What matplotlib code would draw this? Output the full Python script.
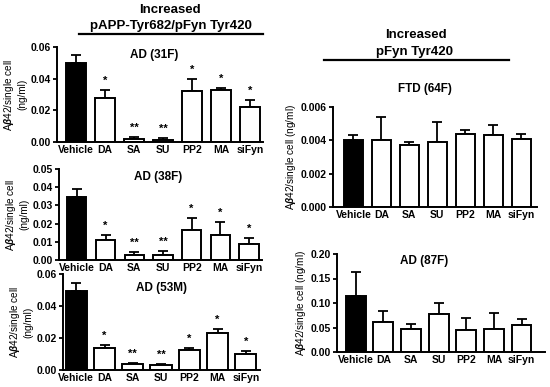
# Abeta42 per single cell, five patient lines, Fyn/APP inhibitor treatments
import numpy as np
import matplotlib.pyplot as plt
from matplotlib.lines import Line2D

plt.rcParams['font.family'] = ['Liberation Sans', 'DejaVu Sans']
plt.rcParams['font.weight'] = 'bold'
plt.rcParams['mathtext.fontset'] = 'custom'
plt.rcParams['mathtext.it'] = 'Liberation Sans:italic:bold'
plt.rcParams['mathtext.rm'] = 'Liberation Sans:bold'

groups = ['Vehicle', 'DA', 'SA', 'SU', 'PP2', 'MA', 'siFyn']

ad31_mean = [0.050, 0.028, 0.002, 0.0015, 0.032, 0.033, 0.022]
ad31_err = [0.005, 0.005, 0.001, 0.001, 0.008, 0.001, 0.0047]
ad31_stars = ['', '*', '**', '**', '*', '*', '*']

ad38_mean = [0.0345, 0.011, 0.003, 0.003, 0.0165, 0.014, 0.0086]
ad38_err = [0.0045, 0.003, 0.0012, 0.002, 0.0065, 0.007, 0.0034]
ad38_stars = ['', '*', '**', '**', '*', '*', '*']

ad53_mean = [0.0496, 0.0137, 0.004, 0.003, 0.0125, 0.023, 0.010]
ad53_err = [0.005, 0.002, 0.0006, 0.0007, 0.0015, 0.0024, 0.002]
ad53_stars = ['', '*', '**', '**', '*', '*', '*']

ftd64_mean = [0.0040, 0.0040, 0.0037, 0.0039, 0.00436, 0.0043, 0.0041]
ftd64_err = [0.00035, 0.0014, 0.0002, 0.0012, 0.00026, 0.0006, 0.0003]

ad87_mean = [0.114, 0.061, 0.047, 0.077, 0.044, 0.047, 0.055]
ad87_err = [0.050, 0.022, 0.010, 0.024, 0.025, 0.033, 0.012]

W, H = 550, 387
fig = plt.figure(figsize=(5.5, 3.87), dpi=100)


def px_axes(left, top, right, bottom):
    return fig.add_axes([left / W, 1 - bottom / H, (right - left) / W, (bottom - top) / H])


def panel(ax, mean, err, stars, ylim, yticks, fmt, title, txy, ylabel, xlim, bw):
    x = np.arange(len(groups))
    colors = ['black'] + ['white'] * (len(groups) - 1)
    ax.bar(x, mean, width=bw, color=colors, edgecolor='black', linewidth=1.4, zorder=2)
    ax.errorbar(x, mean, yerr=[np.zeros(len(err)), err], fmt='none', ecolor='black',
                elinewidth=1.3, capsize=3.5, capthick=1.3, zorder=1)
    if stars:
        for xi, m, e, s in zip(x, mean, err, stars):
            if s:
                ax.annotate(s, (xi, m + e), xytext=(0, 3), textcoords='offset points',
                            ha='center', va='bottom', fontsize=8)
    ax.set_xlim(*xlim)
    ax.set_ylim(*ylim)
    ax.set_yticks(yticks)
    ax.set_yticklabels([fmt.format(v) for v in yticks])
    ax.set_xticks(x)
    ax.set_xticklabels(groups)
    ax.tick_params(axis='x', length=0, pad=2, labelsize=7.5)
    ax.tick_params(axis='y', length=3, width=1.3, pad=1.5, labelsize=7.5)
    for s in ['top', 'right']:
        ax.spines[s].set_visible(False)
    for s in ['left', 'bottom']:
        ax.spines[s].set_linewidth(1.4)
    ax.text(txy[0], txy[1], title, transform=ax.transAxes, ha='center', va='center',
            fontsize=8.5)
    ax.set_ylabel(ylabel, fontsize=7.2, labelpad=2)


lab2 = 'A$\\beta$42/single cell\n(ng/ml)'
lab1 = 'A$\\beta$42/single cell (ng/ml)'

ax1 = px_axes(57, 47, 263, 142)
panel(ax1, ad31_mean, ad31_err, ad31_stars, (0, 0.06), [0, 0.02, 0.04, 0.06], '{:.2f}',
      'AD (31F)', (0.47, 0.92), lab2, (-0.65, 6.45), 0.69)

ax2 = px_axes(59, 169, 262, 260)
panel(ax2, ad38_mean, ad38_err, ad38_stars, (0, 0.05), [0, 0.01, 0.02, 0.03, 0.04, 0.05],
      '{:.2f}', 'AD (38F)', (0.49, 0.915), lab2, (-0.62, 6.45), 0.67)

ax3 = px_axes(63, 274, 260, 370)
panel(ax3, ad53_mean, ad53_err, ad53_stars, (0, 0.06), [0, 0.02, 0.04, 0.06], '{:.2f}',
      'AD (53M)', (0.5, 0.855), lab2, (-0.47, 6.5), 0.75)

ax4 = px_axes(333, 107, 537, 207)
panel(ax4, ftd64_mean, ftd64_err, None, (0, 0.006), [0, 0.002, 0.004, 0.006], '{:.3f}',
      'FTD (64F)', (0.45, 1.18), lab1, (-0.73, 6.57), 0.68)

ax5 = px_axes(337, 254, 545, 352)
panel(ax5, ad87_mean, ad87_err, None, (0, 0.20), [0, 0.05, 0.10, 0.15, 0.20], '{:.2f}',
      'AD (87F)', (0.42, 0.93), lab1, (-0.68, 6.85), 0.72)

# group headers
fig.text(170 / W, 1 - 10 / H, 'Increased', ha='center', va='center', fontsize=9.5)
fig.text(171 / W, 1 - 26 / H, 'pAPP-Tyr682/pFyn Tyr420', ha='center', va='center', fontsize=9.5)
fig.add_artist(Line2D([79 / W, 263 / W], [1 - 33.5 / H, 1 - 33.5 / H], color='black', lw=1.6))

fig.text(416 / W, 1 - 35 / H, 'Increased', ha='center', va='center', fontsize=9.5)
fig.text(415 / W, 1 - 52 / H, 'pFyn Tyr420', ha='center', va='center', fontsize=9.5)
fig.add_artist(Line2D([324 / W, 509 / W], [1 - 60 / H, 1 - 60 / H], color='black', lw=1.6))

plt.savefig('out.png', dpi=100)
